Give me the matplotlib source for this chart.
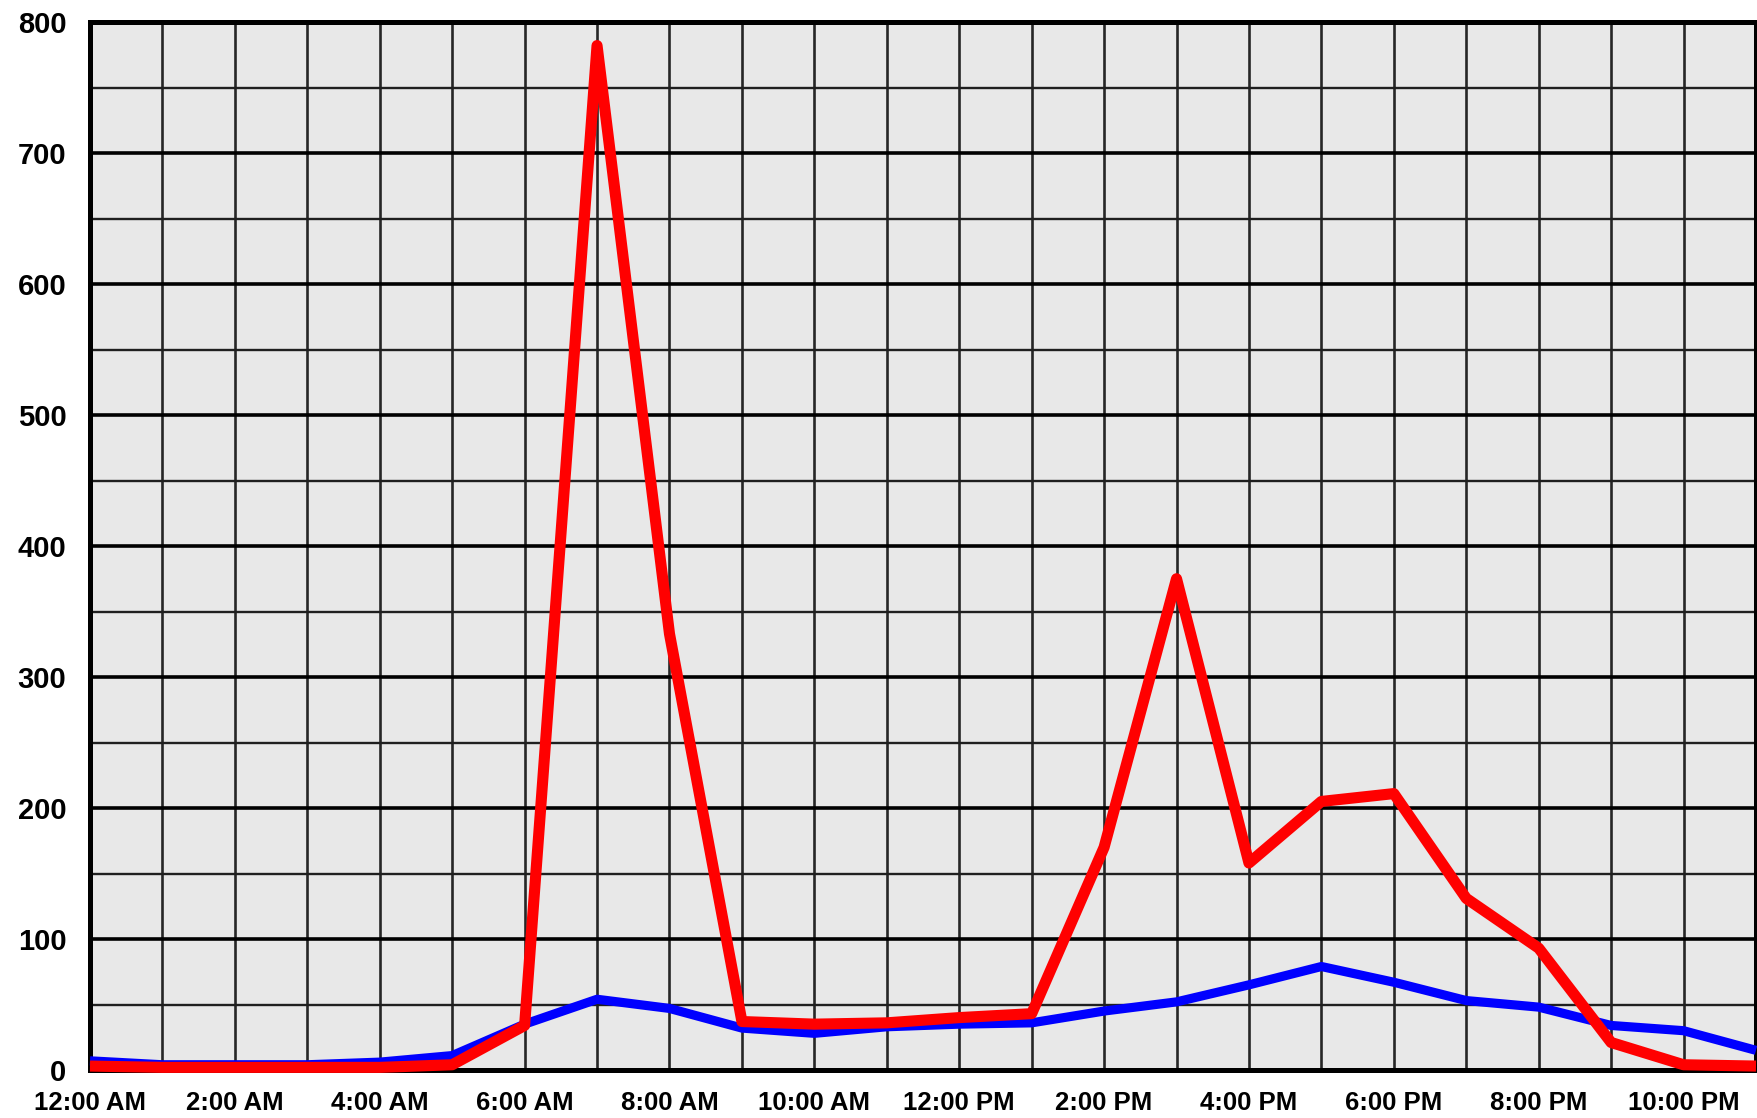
import matplotlib
matplotlib.use("Agg")
import matplotlib.pyplot as plt

hours = list(range(24))
red_values = [3, 2, 2, 2, 2, 4, 34, 782, 333, 37, 35, 36, 40, 43, 170, 375, 158, 205, 211, 131, 93, 21, 4, 3]
blue_values = [7, 4, 4, 4, 6, 11, 35, 54, 47, 32, 28, 33, 35, 36, 45, 52, 65, 79, 67, 53, 48, 34, 30, 15]
x_tick_positions = list(range(0, 24, 2))
x_tick_labels = ["12:00 AM", "2:00 AM", "4:00 AM", "6:00 AM", "8:00 AM", "10:00 AM",
                 "12:00 PM", "2:00 PM", "4:00 PM", "6:00 PM", "8:00 PM", "10:00 PM"]
y_ticks = list(range(0, 801, 100))
y_minor_ticks = list(range(50, 800, 100))

plt.rcParams['font.family'] = ['Liberation Sans', 'DejaVu Sans']

fig = plt.figure(figsize=(17.57, 11.18), dpi=100)
ax = fig.add_axes([90/1757, 1 - 1070/1118, (1756 - 90)/1757, (1070 - 22)/1118])
ax.set_facecolor('#e8e8e8')

ax.plot(hours, blue_values, color='#0000ff', lw=6.6, solid_joinstyle='round',
        solid_capstyle='butt', zorder=4, clip_on=False)
ax.plot(hours, red_values, color='#ff0000', lw=8.0, solid_joinstyle='round',
        solid_capstyle='butt', zorder=5, clip_on=False)

ax.set_xlim(0, 23)
ax.set_ylim(0, 800)

ax.set_xticks(x_tick_positions)
ax.set_xticklabels(x_tick_labels, fontsize=18.5, fontweight='bold')
ax.set_xticks([h for h in hours if h % 2 == 1], minor=True)
ax.set_yticks(y_ticks)
ax.set_yticklabels([str(v) for v in y_ticks], fontsize=21, fontweight='bold')
ax.set_yticks(y_minor_ticks, minor=True)

ax.tick_params(axis='both', which='both', length=0)
ax.tick_params(axis='y', pad=17)
ax.tick_params(axis='x', pad=15)

ax.grid(True, axis='y', which='major', color='black', lw=2.6, zorder=1)
ax.grid(True, axis='y', which='minor', color='#1f1f1f', lw=1.7, zorder=1)
ax.grid(True, axis='x', which='both', color='#262626', lw=1.9, zorder=1)
ax.set_axisbelow(True)

for s in ax.spines.values():
    s.set_linewidth(3.6)
    s.set_color('black')
    s.set_zorder(3)

fig.savefig('out.png', dpi=100, facecolor='white')
